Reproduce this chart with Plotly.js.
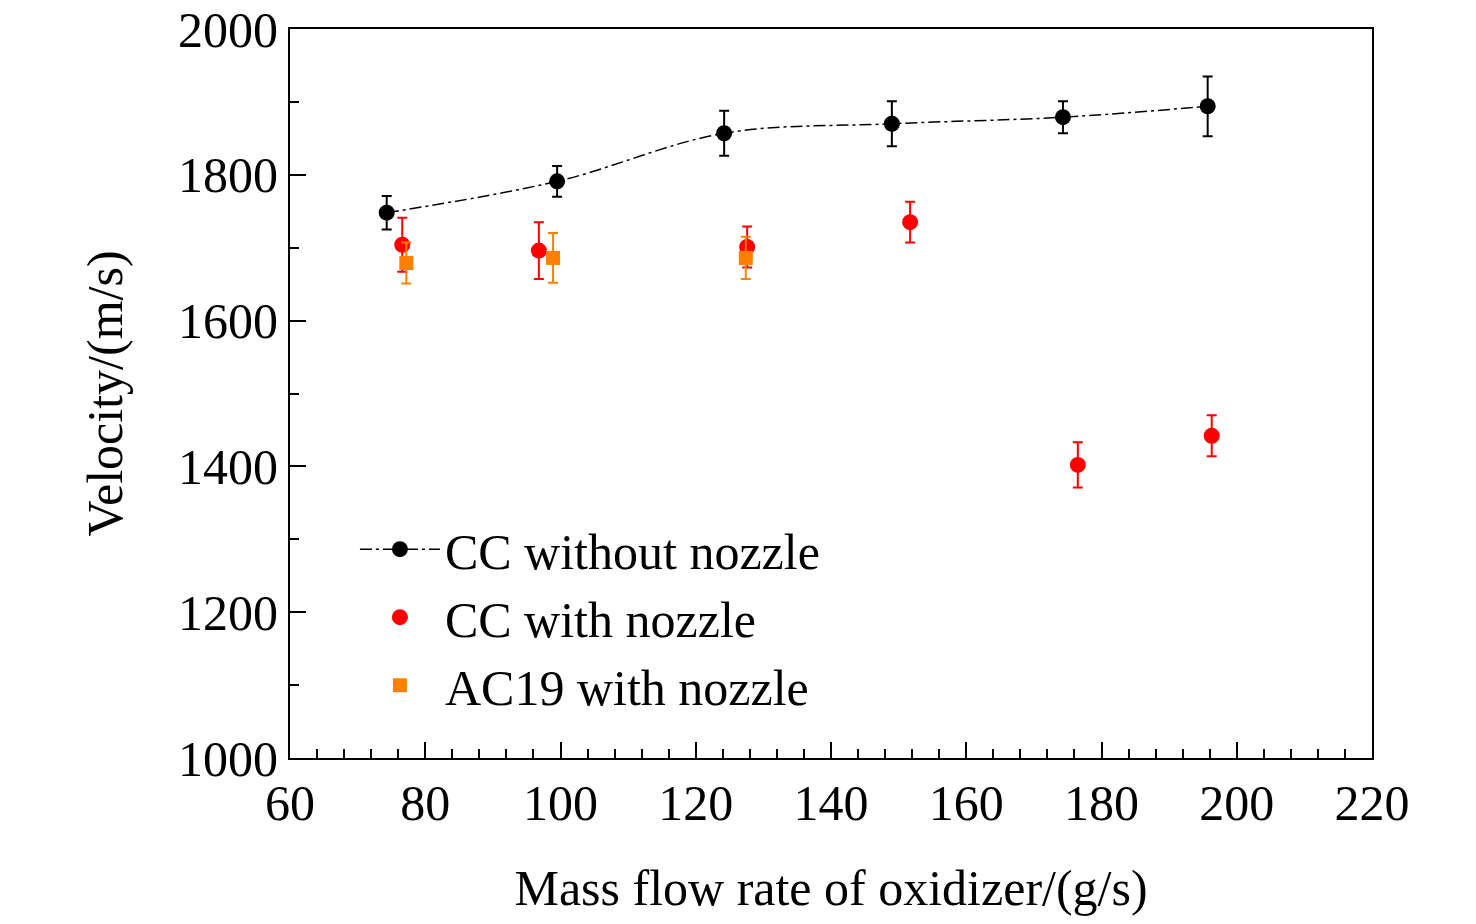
<!DOCTYPE html>
<html>
<head>
<meta charset="utf-8">
<script src="https://cdn.plot.ly/plotly-3.0.1.min.js"></script>
<style>body{margin:0;background:#fff}#chart{width:1476px;height:924px}</style>
</head>
<body>
<div id="chart"></div>
<script>
const ccNoNozzleX = [74.3, 99.5, 124.2, 149.0, 174.3, 195.7];
const ccNoNozzleY = [1748, 1791, 1857, 1870, 1879, 1894];
const ccNoNozzleErr = [23, 21, 31, 31, 22, 41];

const ccNozzleX = [76.6, 96.8, 127.6, 151.7, 176.5, 196.3];
const ccNozzleY = [1704, 1696, 1701, 1735, 1402, 1442];
const ccNozzleErr = [37, 39, 28, 28, 31, 28];

const ac19X = [77.2, 98.9, 127.4];
const ac19Y = [1679, 1686, 1686];
const ac19Err = [28, 34, 29];

const font = { family: "Liberation Serif, Times New Roman, serif", color: "#000" };

const traces = [
  {
    x: ccNoNozzleX, y: ccNoNozzleY, name: "CC without nozzle", type: "scatter",
    mode: "lines+markers",
    line: { color: "#000", width: 1.5, dash: "12px,4px,3px,4px", shape: "spline" },
    marker: { color: "#000", size: 16 },
    error_y: { type: "data", array: ccNoNozzleErr, color: "#000", thickness: 2, width: 5 },
  },
  {
    x: ccNozzleX, y: ccNozzleY, name: "CC with nozzle", type: "scatter",
    mode: "markers",
    marker: { color: "#ff0000", size: 16 },
    error_y: { type: "data", array: ccNozzleErr, color: "#ff0000", thickness: 2, width: 5 },
  },
  {
    x: ac19X, y: ac19Y, name: "AC19 with nozzle", type: "scatter",
    mode: "markers",
    marker: { color: "#ff8000", size: 14, symbol: "square" },
    error_y: { type: "data", array: ac19Err, color: "#ff8000", thickness: 2, width: 5 },
  },
];

const axisCommon = {
  showgrid: false, zeroline: false, showline: true, linecolor: "#000", linewidth: 2,
  mirror: true, ticks: "inside", ticklen: 16, tickwidth: 2, tickcolor: "#000",
  tickfont: { ...font, size: 50 },
};

const layout = {
  width: 1476, height: 924,
  margin: { l: 290, r: 104, t: 29, b: 166 },
  paper_bgcolor: "#fff", plot_bgcolor: "#fff",
  font: font,
  showlegend: true,
  legend: {
    x: 0.06, y: 0.34, xanchor: "left", yanchor: "top",
    font: { ...font, size: 50 }, bgcolor: "rgba(0,0,0,0)", tracegroupgap: 0,
    itemwidth: 80,
  },
  xaxis: {
    ...axisCommon, range: [60, 220], dtick: 20,
    minor: { dtick: 4, ticks: "inside", ticklen: 9, tickwidth: 2, tickcolor: "#000" },
    title: { text: "Mass flow rate of oxidizer/(g/s)", font: { ...font, size: 50 }, standoff: 40 },
  },
  yaxis: {
    ...axisCommon, range: [1000, 2000], dtick: 200,
    minor: { dtick: 100, ticks: "inside", ticklen: 9, tickwidth: 2, tickcolor: "#000" },
    title: { text: "Velocity/(m/s)", font: { ...font, size: 50 }, standoff: 40 },
  },
};

Plotly.newPlot("chart", traces, layout, { displayModeBar: false });
</script>
</body>
</html>
